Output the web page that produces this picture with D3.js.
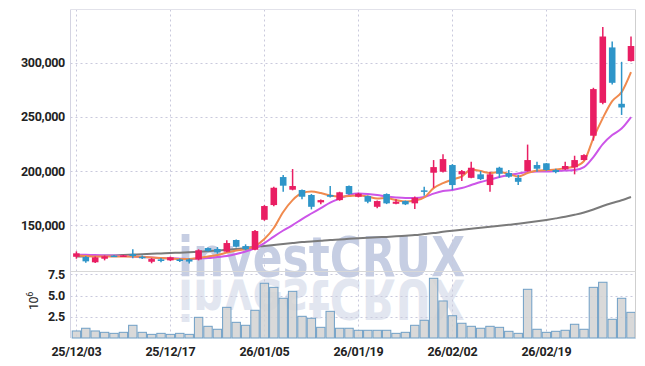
<!DOCTYPE html>
<html><head><meta charset="utf-8">
<script src="https://cdn.jsdelivr.net/npm/d3@7"></script>
<style>html,body{margin:0;padding:0;background:#fff;}svg{display:block;}</style>
</head><body><svg id="c" width="645" height="366"></svg>
<script>
const dates = ["25/12/03","25/12/04","25/12/05","25/12/08","25/12/09","25/12/10","25/12/11","25/12/12","25/12/15","25/12/16",
"25/12/17","25/12/18","25/12/19","25/12/22","25/12/23","25/12/24","25/12/26","25/12/29","25/12/30","26/01/02",
"26/01/05","26/01/06","26/01/07","26/01/08","26/01/09","26/01/12","26/01/13","26/01/14","26/01/15","26/01/16",
"26/01/19","26/01/20","26/01/21","26/01/22","26/01/23","26/01/26","26/01/27","26/01/28","26/01/29","26/01/30",
"26/02/02","26/02/03","26/02/04","26/02/05","26/02/06","26/02/09","26/02/10","26/02/11","26/02/12","26/02/13",
"26/02/19","26/02/20","26/02/23","26/02/24","26/02/25","26/02/26","26/02/27","26/03/03","26/03/04","26/03/05"];
const open  = [120900,120700,115800,119100,122000,121400,123400,120900,116300,118500,
117600,118500,118500,118500,129000,128100,125600,136400,130800,127400,
155100,168700,194600,182900,182600,178000,171200,178000,173300,186300,
176400,177000,167100,178900,169900,172400,170300,182300,198600,199500,
205700,197100,193900,197100,187200,203200,198300,193900,200100,205700,
207300,201100,201700,203600,210300,232800,263200,314400,262300,301800];
const high  = [125900,121600,121100,122100,122600,122700,127800,122100,119700,119700,
121100,119300,119300,127800,129500,129900,136100,136800,132400,145600,
168700,185600,196400,202000,183200,178900,173800,186300,181000,186700,
180100,177500,172900,179500,174000,172900,176600,185600,210300,215600,
206600,201100,208700,200100,199500,204100,201100,196400,224600,208700,
207500,202300,208700,214300,215600,277100,333200,320000,301100,324500];
const low   = [119100,115400,115100,117600,120900,121000,119500,118800,114900,115800,
117000,116100,114700,117600,125800,123700,125000,129500,126900,126900,
154200,167500,181000,182300,174000,164700,169400,175800,172700,178200,
175800,170300,165700,169600,169400,168700,165000,177300,184700,198900,
182600,190900,193400,191800,181000,193900,193900,187200,199700,199500,
200400,198000,201100,197100,210000,228300,261800,280200,252000,301400];
const close = [124100,116700,120400,121300,121400,122100,121600,119700,118800,117000,
120400,117000,116500,126900,126200,125000,133600,130200,127800,144700,
167800,184700,186600,186300,176400,167100,173300,176400,180500,178900,
179200,171800,172400,170300,171800,169400,175500,181900,203800,211200,
187200,200100,203200,192700,197100,197600,194900,190200,210300,202300,
201100,199200,204800,210300,214900,275900,324500,281700,258900,315700];
const volume = [830000,1150000,830000,670000,550000,670000,1500000,670000,430000,550000,
430000,550000,430000,2440000,1380000,1030000,3620000,1850000,1500000,3270000,
6460000,5980000,4690000,5510000,2560000,2330000,1260000,3150000,1150000,1150000,
910000,910000,910000,910000,550000,670000,1500000,2090000,7050000,4370000,
2630000,1740000,1380000,1150000,1380000,1260000,790000,550000,5750000,1030000,
670000,790000,910000,1620000,1030000,5980000,6580000,2210000,4690000,3030000];
const ma5 = [122100,121600,121100,121100,121100,121100,121100,120700,120200,119700,
119300,118800,118800,119700,121100,122500,124800,126700,128100,130800,
137300,147500,162300,173300,179800,181200,179800,177500,176600,177000,
177500,176600,174700,175200,173300,172000,172900,175700,184400,189000,
192300,195100,201500,200100,198300,199200,197400,195100,198300,200600,
201100,201500,202900,204300,209400,230600,249100,264800,273100,291600];
const ma10 = [123000,122700,122500,122200,122000,121600,121100,120700,120200,119700,
119500,119200,118800,119300,119700,120700,121600,123400,125800,129000,
133600,139600,145200,150200,155800,160900,165900,171000,174700,178000,
179300,178900,178000,176600,175700,175200,175200,176100,179300,181700,
182600,184400,187200,190000,192300,194600,196400,197800,199200,199700,
199700,200100,200600,201100,203800,213100,225100,233400,239400,250000];
const ma60 = [121100,121400,121700,122000,122200,122500,122900,123300,123600,124000,
124400,124700,125100,125600,126000,126700,127300,128100,129000,129900,
130800,131800,132700,133600,134500,135000,135700,136400,136900,137500,
138000,138400,138900,139300,139800,140400,141000,141900,142800,144000,
145000,145900,146800,147700,148700,149600,150500,151400,152500,153700,
155000,156400,157900,159700,161800,164600,167800,170600,173100,176100];
const priceTicks = [150000,200000,250000,300000];
const volTicks = [2.5,5.0,7.5];
const dateTicks = ["25/12/03","25/12/17","26/01/05","26/01/19","26/02/02","26/02/19"];

const svg = d3.select("#c");
const L = 70.5, R = 635.5, T = 9.5, MID = 271.5, B = 338;
const x = d3.scaleBand().domain(dates).range([71.7, 635.7]).padding(0);
const y = d3.scaleLinear().domain([107300, 349000]).range([271.5, 10]);
const yv = d3.scaleLinear().domain([0, 7.85e6]).range([338, 271.5]);
const cx = d => x(d) + x.bandwidth()/2;
const grid = "#c9c9dc";
const UP = "#e91e63", DN = "#2e95c9";
const fontF = "Roboto, 'Liberation Sans', sans-serif";

// watermark with reflection
const wm = svg.append("g");
wm.append("text").attr("x", 178).attr("y", 276).attr("textLength", 287).attr("lengthAdjust","spacingAndGlyphs")
  .attr("font-family","'DejaVu Sans', sans-serif").attr("font-weight","bold").attr("font-size",56)
  .attr("fill","#c6cee3").text("investCRUX");
wm.append("text").attr("x", 178).attr("y", 276).attr("textLength", 287).attr("lengthAdjust","spacingAndGlyphs")
  .attr("transform","translate(0,556) scale(1,-1)")
  .attr("font-family","'DejaVu Sans', sans-serif").attr("font-weight","bold").attr("font-size",56)
  .attr("fill","#e2e6f0").text("investCRUX");

// grids
const g = svg.append("g");
priceTicks.forEach(v => g.append("line").attr("x1",L).attr("x2",R).attr("y1",Math.round(y(v))+0.5).attr("y2",Math.round(y(v))+0.5)
  .attr("stroke",grid).attr("stroke-dasharray","2,3"));
volTicks.forEach(v => g.append("line").attr("x1",L).attr("x2",R).attr("y1",Math.round(yv(v*1e6))+0.5).attr("y2",Math.round(yv(v*1e6))+0.5)
  .attr("stroke",grid).attr("stroke-dasharray","2,3"));
dateTicks.forEach(d => g.append("line").attr("x1",Math.round(cx(d))+0.5).attr("x2",Math.round(cx(d))+0.5).attr("y1",T).attr("y2",B)
  .attr("stroke",grid).attr("stroke-dasharray","2,3"));

// volume bars
svg.append("g").selectAll("rect").data(dates).join("rect")
  .attr("x", d => x(d)+0.5).attr("width", x.bandwidth()-1)
  .attr("y", (d,i) => yv(volume[i])).attr("height", (d,i) => yv(0)-yv(volume[i]))
  .attr("fill","#d2d2d2").attr("fill-opacity",0.85).attr("stroke","#6f9fc6").attr("stroke-width",1);

// frame
svg.append("line").attr("x1",L).attr("x2",L).attr("y1",T).attr("y2",B).attr("stroke","#d4d4e2");
svg.append("line").attr("x1",R).attr("x2",R).attr("y1",T).attr("y2",B).attr("stroke","#cfcfcf");
svg.append("line").attr("x1",L).attr("x2",R).attr("y1",T).attr("y2",T).attr("stroke","#e2e2ea");
svg.append("line").attr("x1",L).attr("x2",R).attr("y1",MID).attr("y2",MID).attr("stroke","#d8d8d8");

// MA lines
const line = arr => d3.line().x((d,i)=>cx(dates[i])).y(d=>y(d)).curve(d3.curveMonotoneX)(arr);
svg.append("path").attr("d", line(ma60)).attr("fill","none").attr("stroke","#7a7a7a").attr("stroke-width",2);
svg.append("path").attr("d", line(ma10)).attr("fill","none").attr("stroke","#cc55e8").attr("stroke-width",2);
svg.append("path").attr("d", line(ma5)).attr("fill","none").attr("stroke","#f08a4e").attr("stroke-width",2);

// candles
const cg = svg.append("g");
const bw = x.bandwidth()*0.7;
dates.forEach((d,i) => {
  const col = close[i] >= open[i] ? UP : DN;
  cg.append("line").attr("x1",cx(d)).attr("x2",cx(d)).attr("y1",y(high[i])).attr("y2",y(low[i]))
    .attr("stroke",col).attr("stroke-width",1.5);
  const top = y(Math.max(open[i],close[i])), bot = y(Math.min(open[i],close[i]));
  cg.append("rect").attr("x",cx(d)-bw/2).attr("width",bw).attr("y",top).attr("height",Math.max(1.5,bot-top)).attr("fill",col);
});

// axis labels
const ax = svg.append("g").attr("font-family",fontF).attr("font-size",12.5).attr("font-weight","bold").attr("fill","#222")
  .attr("letter-spacing","-0.3");
priceTicks.forEach(v => ax.append("text").attr("x",65).attr("y",y(v)).attr("dy","0.35em").attr("text-anchor","end")
  .text(d3.format(",")(v)));
volTicks.forEach(v => ax.append("text").attr("x",65).attr("y",yv(v*1e6)).attr("dy","0.35em").attr("text-anchor","end")
  .text(d3.format(".1f")(v)));
dateTicks.forEach(d => ax.append("text").attr("x",cx(d)).attr("y",356).attr("text-anchor","middle").text(d));
const lab = ax.append("text").attr("transform","translate(38,301) rotate(-90)").attr("text-anchor","middle").attr("font-weight","normal");
lab.append("tspan").text("10");
lab.append("tspan").attr("dy",-5).attr("font-size",9).text("6");
</script></body></html>
